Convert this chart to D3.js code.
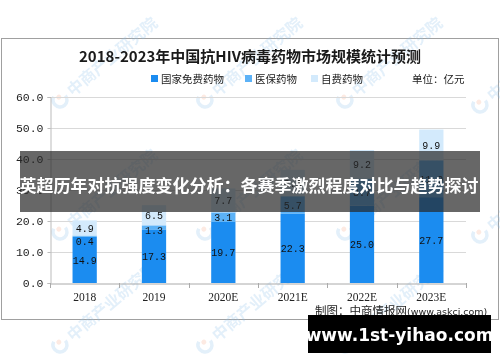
<!DOCTYPE html>
<html lang="zh">
<head>
<meta charset="UTF-8">
<title>抗HIV病毒药物市场规模</title>
<style>
  body { margin: 0; background: #fff; }
  svg { display: block; }
  .tick text { fill: #222; }
</style>
</head>
<body>
<svg id="chart" width="500" height="362"></svg>
<script src="https://cdn.jsdelivr.net/npm/d3@7"></script>
<script>
// 数据
var years = ['2018', '2019', '2020E', '2021E', '2022E', '2023E'];
var freeDrug = [14.9, 17.3, 19.7, 22.3, 25.0, 27.7];
var insuranceDrug = [0.4, 1.3, 3.1, 5.7, 8.7, 11.9];
var selfPayDrug = [4.9, 6.5, 7.7, 8.5, 9.2, 9.9];
var seriesNames = ['国家免费药物', '医保药物', '自费药物'];
var yTicks = [0, 10, 20, 30, 40, 50, 60];

var colors = ['#1b8cf0', '#5cb2f7', '#d3eafc'];

var svg = d3.select('#chart');

// 外框
svg.append('rect')
  .attr('x', 1.5).attr('y', 38.5)
  .attr('width', 497).attr('height', 281)
  .attr('fill', '#fff').attr('stroke', '#a0a0a0');

// 水印
var wm = svg.append('g').attr('opacity', 0.25);
[[60, 100, '中商产业研究院'], [205, 100, '中商产业研究院'], [345, 100, '中商产业研究院'], [480, 105, '中商'],
 [60, 232, '中商产业研究院'], [205, 232, '中商产业研究院'], [345, 232, '中商产业研究院'], [480, 235, '中商'],
 [60, 345, '中商产业研究院'], [205, 345, '中商产业研究院'], [345, 345, '中商产业研究院']].forEach(function (p) {
  var g = wm.append('g').attr('transform', 'translate(' + p[0] + ',' + p[1] + ') rotate(-40)');
  g.append('circle').attr('r', 7).attr('fill', 'none')
    .attr('stroke', '#8fc0ea').attr('stroke-width', 3.5)
    .attr('stroke-dasharray', '30 14');
  g.append('circle').attr('cx', 1).attr('cy', -3).attr('r', 2.5).attr('fill', '#f5a98a');
  g.append('text').attr('x', 12).attr('y', 6)
    .attr('font-family', 'Noto Sans CJK SC').attr('font-weight', 'bold')
    .attr('font-size', 16).attr('fill', '#8fc0ea')
    .text(p[2]);
});

// 标题
svg.append('text')
  .attr('x', 250).attr('y', 62)
  .attr('text-anchor', 'middle')
  .attr('font-family', 'Noto Sans CJK SC').attr('font-weight', 'bold')
  .attr('font-size', 15).attr('fill', '#1a1a1a')
  .text('2018-2023年中国抗HIV病毒药物市场规模统计预测');

// 图例
var legendX = [151, 245, 311];
var legend = svg.selectAll('.legend')
  .data(seriesNames)
  .enter().append('g')
  .attr('transform', function (d, i) { return 'translate(' + legendX[i] + ',79)'; });
legend.append('rect')
  .attr('x', 0).attr('y', -4).attr('width', 7).attr('height', 7)
  .attr('fill', function (d, i) { return colors[i]; });
legend.append('text')
  .attr('x', 10).attr('y', 4)
  .attr('font-family', 'Noto Sans CJK SC').attr('font-size', 10.5).attr('fill', '#222')
  .text(function (d) { return d; });
svg.append('text')
  .attr('x', 412).attr('y', 83)
  .attr('font-family', 'Noto Sans CJK SC').attr('font-size', 10.5).attr('fill', '#222')
  .text('单位：亿元');

// 比例尺
var x = d3.scaleBand().domain(years).range([50, 466]).paddingInner(0.65).paddingOuter(0.325);
var y = d3.scaleLinear().domain([0, 60]).range([283, 97]);

// 网格线
svg.append('g').selectAll('line')
  .data(yTicks.slice(1))
  .enter().append('line')
  .attr('x1', 50).attr('x2', 466)
  .attr('y1', function (d) { return Math.round(y(d)) + 0.5; })
  .attr('y2', function (d) { return Math.round(y(d)) + 0.5; })
  .attr('stroke', '#d9d9d9');

// y 轴
var yAxis = svg.append('g')
  .attr('transform', 'translate(50.5,0)')
  .call(d3.axisLeft(y).tickValues(yTicks).tickFormat(d3.format('.1f')).tickSize(3).tickPadding(4));
yAxis.select('.domain').attr('stroke', '#bbb');
yAxis.selectAll('.tick line').attr('stroke', '#bbb');
yAxis.selectAll('text').attr('font-family', 'Liberation Mono').attr('font-size', 11.5);

// 堆叠
var table = years.map(function (yr, i) {
  return { year: yr, a: freeDrug[i], b: insuranceDrug[i], c: selfPayDrug[i] };
});
var stack = d3.stack().keys(['a', 'b', 'c'])(table);

var layers = svg.selectAll('.layer')
  .data(stack)
  .enter().append('g')
  .attr('fill', function (d, i) { return colors[i]; });

layers.selectAll('rect')
  .data(function (d) { return d; })
  .enter().append('rect')
  .attr('x', function (d) { return x(d.data.year); })
  .attr('width', x.bandwidth())
  .attr('y', function (d) { return y(d[1]); })
  .attr('height', function (d) { return y(d[0]) - y(d[1]); });

// 数值标签（细段的标签下移）
layers.selectAll('text')
  .data(function (d) { return d.map(function (v) { v.key = d.key; return v; }); })
  .enter().append('text')
  .attr('x', function (d) { return x(d.data.year) + x.bandwidth() / 2; })
  .attr('y', function (d) {
    var h = y(d[0]) - y(d[1]);
    if (h < 10) return y(d[1]) + 9;
    return (y(d[0]) + y(d[1])) / 2 + 4;
  })
  .attr('text-anchor', 'middle')
  .attr('font-family', 'Liberation Mono').attr('font-size', 10)
  .attr('fill', '#111')
  .text(function (d) { return d3.format('.1f')(d.data[d.key]); });

// x 轴
var xAxis = svg.append('g')
  .attr('transform', 'translate(0,283.5)')
  .call(d3.axisBottom(x).tickSize(0).tickPadding(9));
xAxis.select('.domain').attr('stroke', '#aaa');
xAxis.selectAll('text').attr('font-family', 'Liberation Serif').attr('font-size', 11.5);
svg.append('g').selectAll('line')
  .data(years.concat(['end']))
  .enter().append('line')
  .attr('x1', function (d, i) { return Math.round(50 + i * x.step()) + 0.5; })
  .attr('x2', function (d, i) { return Math.round(50 + i * x.step()) + 0.5; })
  .attr('y1', 283).attr('y2', 288)
  .attr('stroke', '#aaa');

// 来源
var src = svg.append('text')
  .attr('x', 315).attr('y', 315)
  .attr('font-family', 'Noto Sans CJK SC').attr('font-size', 11.5).attr('fill', '#222');
src.append('tspan').text('制图：中商情报网');
src.append('tspan').attr('font-size', 9.5).attr('font-family', 'DejaVu Sans').text('(www.askci.com)');

// 遮罩条
svg.append('rect')
  .attr('x', 20).attr('y', 151)
  .attr('width', 460).attr('height', 61)
  .attr('fill', 'rgba(38,38,38,0.7)');
svg.append('text')
  .attr('x', 249).attr('y', 192)
  .attr('text-anchor', 'middle')
  .attr('font-family', 'Noto Sans CJK SC').attr('font-weight', 'bold')
  .attr('font-size', 17).attr('fill', '#fff')
  .text('英超历年对抗强度变化分析：各赛季激烈程度对比与趋势探讨');

// 底部网址
svg.append('rect')
  .attr('x', 308).attr('y', 315)
  .attr('width', 183).attr('height', 38)
  .attr('fill', '#000');
svg.append('text')
  .attr('x', 399.5).attr('y', 341)
  .attr('text-anchor', 'middle')
  .attr('font-family', 'DejaVu Sans').attr('font-weight', 'bold')
  .attr('font-size', 17).attr('fill', '#fff')
  .text('www.1st-yihao.com');
</script>
</body>
</html>
